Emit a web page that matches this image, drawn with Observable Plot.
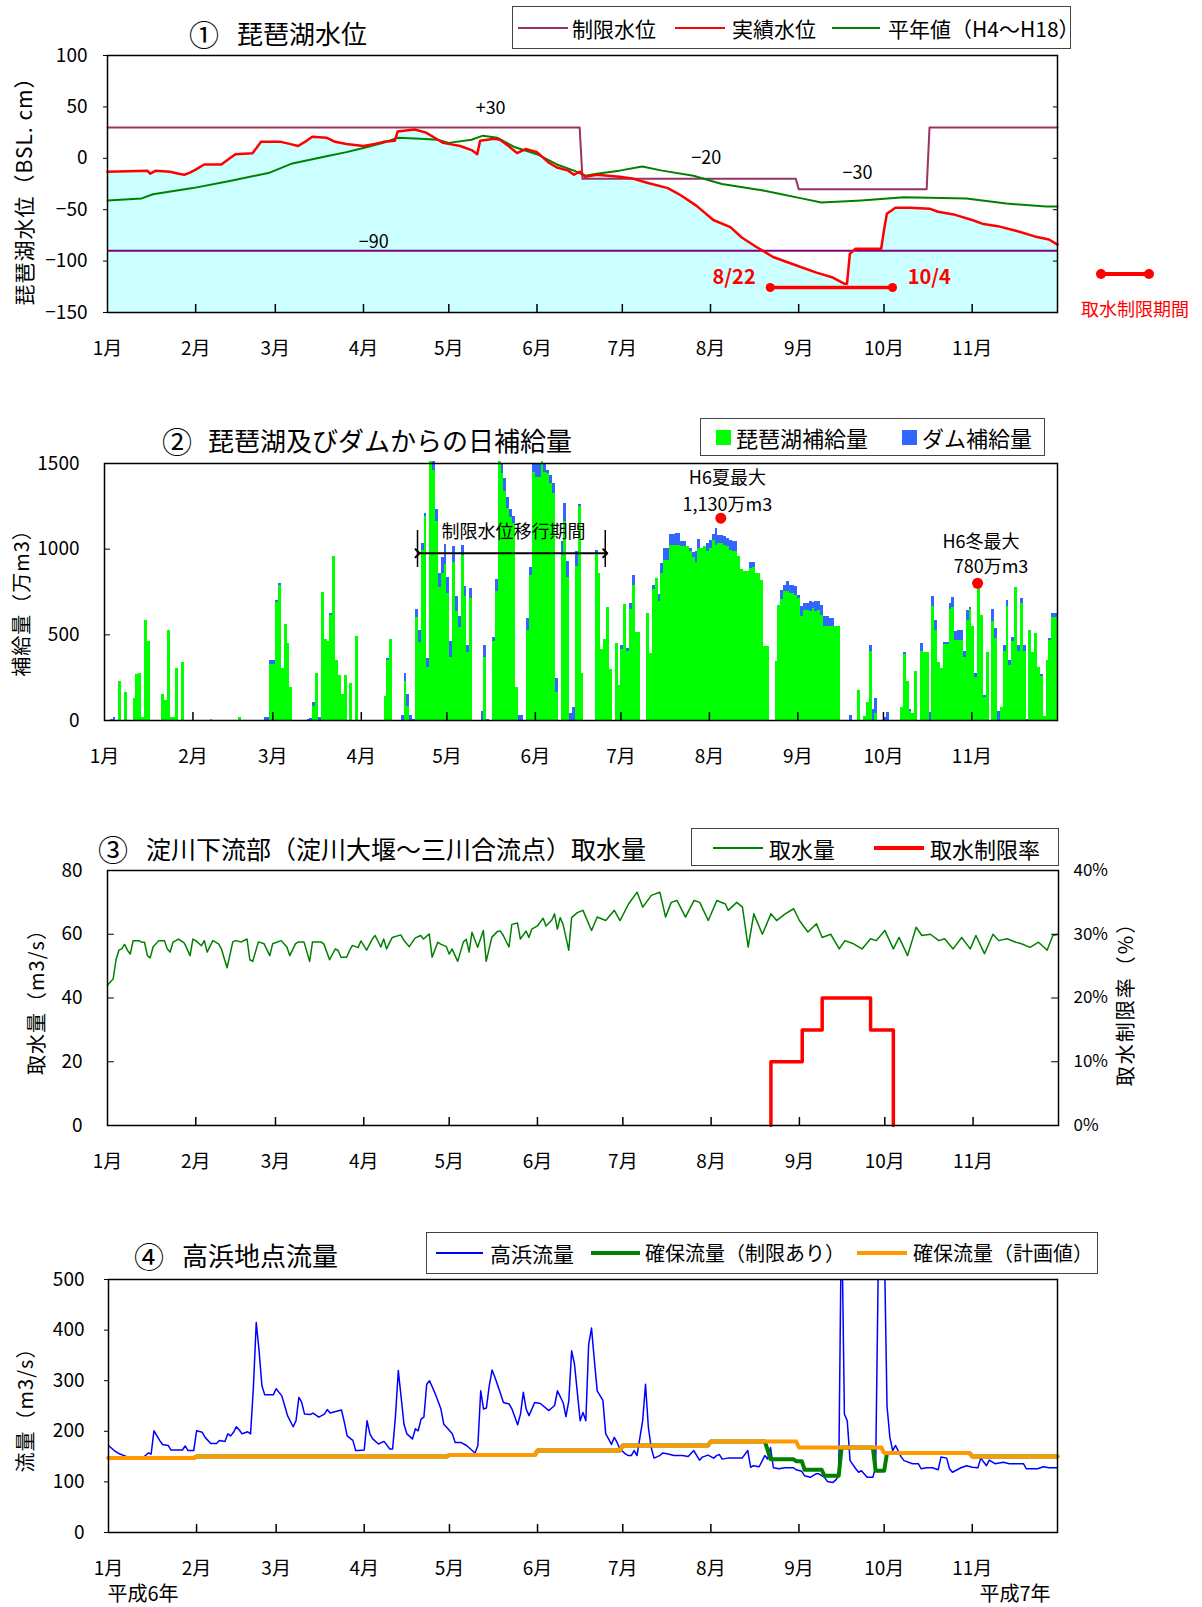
<!DOCTYPE html>
<html><head><meta charset="utf-8">
<script src="https://cdn.jsdelivr.net/npm/d3@7"></script>
<script src="https://cdn.jsdelivr.net/npm/@observablehq/plot@0.6"></script>
<style>
body{margin:0;background:#fff;font-family:"Noto Sans CJK JP","Noto Sans",sans-serif;}
#root{position:relative;width:1202px;height:1607px;overflow:hidden;background:#fff;}
.panel{position:absolute;left:0;}
.abs{position:absolute;white-space:nowrap;color:#000;line-height:1;}
.box{position:absolute;border:1.5px solid #444;background:#fff;box-sizing:border-box;}
.sw{position:absolute;}
</style></head><body><div id="root"></div>
<script>
// ---------------- DATA ----------------
const monthLabels = ["1月","2月","3月","4月","5月","6月","7月","8月","9月","10月","11月"];
const monthStarts = [0,31,59,90,120,151,181,212,243,273,304]; // day index (0 = 1/1)

// ① 琵琶湖水位 (cm): [day, value]
const actualLevel = [[0,-13],[14,-12],[15,-15],[17,-12],[22,-13],[25,-15],[27,-16],[29,-14],[31,-11],[34,-6],[40,-6],[43,0],[45,4],[51,5],[54,16],[61,16],[64,14],[67,12],[70,17],[72,21],[77,20],[80,16],[84,14],[90,12],[94,14],[97,16],[101,17],[102,26],[108,28],[112,25],[115,20],[118,15],[124,12],[128,8],[130,4],[131,17],[136,19],[138,18],[141,12],[144,5],[147,9],[151,6],[155,-4],[158,-9],[162,-12],[164,-16],[166,-13],[168,-18],[172,-16],[180,-18],[185,-20],[190,-24],[197,-29],[201,-35],[207,-46],[213,-60],[219,-67],[223,-77],[228,-86],[234,-96],[242,-104],[249,-111],[255,-116],[259,-122],[260,-122],[261,-93],[263,-88],[272,-88],[273,-70],[274,-54],[277,-48],[282,-48],[289,-49],[292,-52],[298,-55],[304,-60],[308,-64],[313,-66],[320,-71],[326,-76],[331,-79],[334,-84]];
const normalLevel = [[0,-41],[6,-40],[12,-39],[16,-35],[30,-29],[43,-22],[57,-14],[65,-5],[77,2],[84,6],[90,10],[97,15],[102,20],[110,19],[116,18],[120,15],[128,18],[132,22],[137,20],[143,11],[151,4],[158,-6],[164,-12],[168,-17],[172,-15],[180,-12],[188,-8],[195,-12],[206,-17],[216,-25],[230,-31],[237,-35],[244,-39],[251,-43],[265,-41],[280,-38],[302,-39],[316,-44],[330,-47],[334,-47]];
const limitLevel = [[0,30],[166,30],[167,-20],[242,-20],[243,-30],[288,-30],[289,30],[334,30]];
const lowerLimit = -90;
const limitLabels = ["+30","−20","−30","−90"];
const restrictPeriod = [233, 276]; // 8/22 – 10/4
const restrictLabels = ["8/22","10/4"];

// ② 日補給量 (万m3): [day, 琵琶湖, ダム]
const supply = [[2,0,5],[3,0,20],[5,230,0],[7,165,0],[10,130,0],[11,267,0],[12,276,0],[13,20,0],[14,586,0],[15,463,0],[20,154,0],[21,119,0],[22,527,0],[23,20,0],[24,20,0],[25,305,0],[27,340,0],[37,8,0],[47,20,0],[56,0,20],[57,0,20],[58,329,23],[59,329,23],[60,690,12],[61,790,12],[62,305,0],[63,562,0],[64,451,0],[65,195,0],[71,0,8],[72,0,10],[73,84,23],[74,276,0],[75,0,20],[76,749,0],[77,475,0],[78,463,0],[79,615,12],[80,959,0],[81,352,0],[82,265,0],[83,154,0],[84,265,0],[86,218,0],[88,492,0],[98,142,0],[99,352,12],[100,475,0],[104,0,31],[105,230,47],[106,84,70],[107,0,31],[108,0,8],[109,603,47],[110,457,70],[111,990,45],[112,1190,20],[113,307,54],[114,1510,0],[115,1460,50],[116,1163,70],[117,778,82],[118,860,90],[119,912,117],[120,743,93],[121,370,93],[122,924,93],[123,634,91],[124,543,66],[125,965,58],[126,726,58],[127,399,41],[128,714,58],[132,0,54],[133,370,70],[134,0,8],[136,463,23],[137,755,70],[138,1510,0],[139,1440,60],[140,1338,76],[141,1239,64],[142,1187,47],[143,1150,40],[144,195,0],[145,0,31],[146,0,31],[148,527,68],[149,848,47],[150,1450,50],[151,1420,80],[152,1420,80],[153,1510,0],[154,1450,50],[155,1440,20],[156,1385,47],[157,1325,60],[158,163,82],[160,965,78],[161,1163,105],[162,837,93],[163,0,43],[164,0,78],[165,900,88],[166,1250,10],[167,274,0],[172,975,20],[173,858,0],[174,416,0],[175,475,0],[176,661,0],[177,300,0],[179,451,0],[180,206,0],[181,416,19],[182,675,0],[183,400,20],[184,650,35],[185,790,58],[186,514,0],[187,514,0],[190,626,0],[191,393,0],[192,766,23],[193,829,0],[194,693,45],[195,858,58],[196,936,68],[197,936,68],[198,1023,62],[199,1023,62],[200,1023,70],[201,1023,70],[202,1014,29],[203,1014,29],[204,1014,0],[205,985,19],[206,950,30],[207,924,60],[208,1004,54],[209,1004,0],[210,1014,0],[211,985,48],[212,1004,48],[213,1052,33],[214,1023,97],[215,1033,49],[216,1033,49],[217,1023,49],[218,1014,49],[219,994,58],[220,988,54],[221,988,54],[222,959,0],[223,883,0],[224,868,0],[225,868,0],[226,887,35],[227,893,29],[228,858,0],[229,858,0],[230,819,0],[231,430,0],[232,430,0],[235,342,0],[236,673,0],[237,706,51],[238,751,35],[239,751,58],[240,741,45],[241,741,45],[242,731,49],[243,712,20],[244,605,58],[245,644,39],[246,644,39],[247,634,62],[248,653,37],[249,634,62],[250,640,56],[251,615,58],[252,551,54],[253,551,54],[254,551,45],[255,551,45],[256,551,0],[257,551,0],[261,0,31],[264,177,0],[266,21,0],[267,107,0],[268,405,35],[269,0,66],[270,40,90],[273,0,20],[274,0,45],[279,78,0],[280,385,10],[281,230,0],[282,55,12],[283,40,0],[284,288,0],[286,405,47],[287,395,0],[288,395,0],[289,0,45],[290,667,58],[291,527,58],[292,340,0],[293,305,0],[294,445,10],[295,445,10],[296,650,35],[297,660,55],[298,469,49],[299,469,58],[300,469,58],[301,370,35],[302,586,54],[303,650,12],[304,547,0],[305,253,23],[306,780,0],[307,611,0],[308,132,12],[309,397,0],[311,580,70],[312,479,58],[313,0,54],[314,76,0],[315,405,35],[316,663,35],[317,319,33],[318,463,23],[319,776,0],[320,405,35],[321,681,31],[322,405,35],[323,0,8],[324,527,0],[325,397,0],[326,508,0],[327,307,0],[328,255,14],[329,21,0],[330,352,0],[331,469,10],[332,601,23],[333,601,23]];
const summerMax = {day: 216, value: 1181, label: ["H6夏最大","1,130万m3"]};
const winterMax = {day: 306, value: 801, label: ["H6冬最大","780万m3"]};
const transitionPeriod = {from: 109.7, to: 175.5, label: "制限水位移行期間"};

// ③ 取水量 (m3/s): [day, value]
const intake = [[0,44],[1,45],[2,46],[3,52],[4,55],[5,55.4],[6,56.8],[7,55],[8,53.8],[9,58],[11,58],[12,57.5],[13,57.5],[14,53.3],[15,52.6],[16,56],[18,58],[20,58],[21,55.4],[22,54.4],[23,57.5],[25,58.5],[27,57.2],[29,53.3],[30,58.5],[31,58],[33,56.4],[34,58],[35,54.4],[37,58],[39,57],[40,55.4],[42,49.5],[44,57.6],[45,58],[47,57.6],[49,58.5],[50,52],[51,51.5],[53,57.6],[55,57],[57,53.3],[58,57],[61,58],[63,56],[64,53.3],[66,57],[67,57.6],[69,57.6],[71,51.5],[72,57.6],[75,57.6],[76,56.9],[78,52],[80,55.4],[81,54.9],[82,52.8],[84,52.8],[85,54.9],[86,56.5],[88,55.8],[89,57.9],[91,55],[93,58.5],[94,59.6],[96,56],[97,58.5],[98,55.4],[100,59],[103,59.8],[104,58.2],[106,56.1],[108,58.8],[110,59.6],[111,58.5],[113,60.1],[114,52.8],[116,57.5],[117,56.9],[118,56.5],[119,56.1],[120,53.8],[121,55.4],[123,51.5],[125,57.6],[126,58.4],[127,54.4],[128,60.6],[130,55.9],[132,61.2],[133,51.5],[135,59.1],[137,60.9],[138,61],[139,59.6],[141,56],[142,63.1],[144,63.5],[145,58.5],[147,61],[148,59],[149,61.6],[151,62.6],[153,65],[154,62.6],[156,64.4],[157,66.4],[158,61.6],[159,65.2],[160,63.1],[162,55],[163,65.2],[165,66.8],[167,67.5],[170,61.2],[172,65.4],[175,64.3],[178,67.5],[180,64.3],[183,69.5],[186,73.2],[188,68.5],[191,72.2],[194,73.2],[196,65.4],[198,70],[200,70.6],[203,65.4],[206,70.6],[208,70],[211,64.3],[214,70.6],[217,69.5],[218,67.5],[221,70],[223,68.5],[225,56],[227,66.4],[230,60],[233,66.4],[235,64.3],[238,66.4],[241,68],[243,64.3],[246,60.7],[249,63.3],[251,59],[254,60],[257,55.4],[259,58],[262,57],[265,55.4],[268,58.6],[270,58],[273,61.2],[276,55.4],[278,59],[281,53.3],[284,62.2],[286,59.6],[289,60],[292,58],[294,58.6],[297,55.4],[300,59],[303,55.4],[305,59.6],[308,53.9],[311,60],[313,58],[316,58.6],[319,57.5],[321,57],[324,55.9],[327,57.5],[330,55],[332,59.6],[334,60]];
// 取水制限率 (%): step changes [day, rate]
const restrictRate = [[233,0],[233,10],[244,15],[251,20],[268,15],[276,0]];
const rateTicks = [0,10,20,30,40];

// ④ 高浜流量 (m3/s)
const flow = [[0,172],[2,162],[4,155],[6,151],[8,147],[12,147],[14,157],[15,155],[16,201],[18,182],[19,174],[21,172],[22,163],[26,163],[27,171],[28,162],[30,162],[31,201],[33,198],[34,188],[36,176],[38,176],[39,182],[41,180],[42,195],[43,191],[44,198],[45,209],[46,203],[47,195],[49,199],[50,195],[51,287],[52,415],[53,359],[54,290],[55,272],[58,272],[59,284],[61,270],[62,251],[63,231],[65,209],[66,221],[67,267],[68,257],[69,234],[71,233],[72,236],[74,228],[76,234],[77,243],[78,236],[80,239],[82,242],[83,218],[84,191],[86,182],[87,162],[88,162],[90,163],[91,221],[92,195],[93,185],[95,175],[97,180],[99,165],[100,165],[101,230],[102,320],[104,214],[105,195],[107,185],[108,205],[109,201],[110,224],[111,228],[112,293],[113,300],[114,287],[115,274],[117,244],[118,214],[119,208],[121,195],[122,178],[124,178],[126,172],[128,162],[129,157],[130,172],[131,280],[132,244],[133,246],[134,290],[135,321],[136,307],[138,274],[139,257],[141,254],[142,244],[144,213],[145,234],[146,277],[147,244],[148,231],[150,257],[152,255],[155,241],[157,251],[158,280],[160,257],[161,229],[162,260],[163,359],[164,333],[166,221],[167,237],[168,221],[169,372],[170,404],[171,340],[172,280],[174,261],[175,195],[176,185],[177,174],[178,188],[179,178],[180,165],[182,155],[183,152],[184,152],[185,162],[186,152],[188,221],[189,293],[190,208],[191,168],[192,147],[194,152],[195,157],[197,155],[199,152],[202,152],[204,150],[206,162],[208,143],[209,149],[211,153],[213,147],[214,152],[215,154],[216,145],[218,147],[223,147],[225,162],[226,129],[227,132],[229,130],[231,152],[232,145],[233,168],[234,128],[236,126],[238,128],[241,128],[242,124],[244,121],[245,112],[247,109],[249,116],[250,116],[252,109],[253,101],[255,99],[256,104],[257,112],[258,650],[259,234],[260,221],[261,142],[263,126],[264,119],[265,122],[267,109],[269,109],[270,129],[271,560],[272,760],[273,590],[274,250],[275,188],[276,162],[277,172],[279,149],[280,142],[283,136],[285,136],[286,126],[288,128],[290,128],[292,124],[293,149],[295,147],[296,126],[297,119],[300,128],[302,132],[304,129],[306,128],[307,147],[309,132],[310,143],[312,136],[315,139],[317,136],[322,136],[323,126],[327,126],[329,130],[331,128],[334,128]];
const plannedFlow = [[0,147],[30,147],[31,150],[119,150],[120,153],[150,153],[151,162],[180,162],[181,172],[211,172],[212,180],[242,180],[243,168],[272,168],[273,157],[303,157],[304,150],[334,150]];
const securedFlow = [[0,147],[30,147],[31,150],[119,150],[120,153],[150,153],[151,162],[180,162],[181,172],[211,172],[212,180],[231,180],[233,145],[241,145],[242,141],[244,141],[245,124],[251,124],[252,112],[257,112],[258,168],[269,168],[270,122],[273,122],[274,157],[303,157],[304,150],[334,150]];
const yearLabels = ["平成6年","平成7年"];

// ---------------- HELPERS ----------------
const FONT = '"Noto Sans CJK JP","Noto Sans",sans-serif';
const root = document.getElementById("root");
const D = d => new Date(Date.UTC(1994, 0, 1) + d * 864e5);
const rows = p => p.map(([d, v]) => ({date: D(d), v}));
const months = monthStarts.map(D);
const fmtMonth = d => monthLabels[months.findIndex(m => +m === +d)];
const xDomain = [D(0), D(334)];
const style = {fontFamily: FONT, fontSize: "19px", background: "transparent", overflow: "visible", color: "#000"};

function place(svg, top) { const w = document.createElement("div"); w.className = "panel"; w.style.top = top + "px"; w.appendChild(svg); root.appendChild(w); }
function label(txt, x, y, o = {}) {
  const e = document.createElement("div"); e.className = "abs"; e.textContent = txt;
  e.style.left = x + "px"; e.style.top = y + "px"; e.style.fontSize = (o.size || 20) + "px";
  if (o.color) e.style.color = o.color;
  if (o.weight) e.style.fontWeight = o.weight;
  if (o.ls) e.style.letterSpacing = o.ls + "px";
  const ax = o.anchor === "middle" ? "-50%" : o.anchor === "end" ? "-100%" : "0";
  e.style.transform = o.rotate ? `translate(-50%,-50%) rotate(${o.rotate}deg)` : `translate(${ax},-50%)`;
  root.appendChild(e); return e;
}
function box(x, y, w, h) { const e = document.createElement("div"); e.className = "box"; Object.assign(e.style, {left: x + "px", top: y + "px", width: w + "px", height: h + "px"}); root.appendChild(e); }
function hline(x1, x2, y, color, w) { const e = document.createElement("div"); e.className = "sw"; Object.assign(e.style, {left: x1 + "px", top: (y - w / 2) + "px", width: (x2 - x1) + "px", height: w + "px", background: color}); root.appendChild(e); }
function square(x, y, s, color) { const e = document.createElement("div"); e.className = "sw"; Object.assign(e.style, {left: x + "px", top: y + "px", width: s + "px", height: s + "px", background: color}); root.appendChild(e); }
function dotDiv(x, y, r, color) { const e = document.createElement("div"); e.className = "sw"; Object.assign(e.style, {left: (x - r) + "px", top: (y - r) + "px", width: 2 * r + "px", height: 2 * r + "px", background: color, borderRadius: "50%"}); root.appendChild(e); }

// ---------------- ① 琵琶湖水位 ----------------
const act = rows(actualLevel), nor = rows(normalLevel), lim = rows(limitLevel);
const restrictRow = restrictPeriod.map(d => ({date: D(d), v: -125.7}));
place(Plot.plot({
  width: 1202, height: 370, marginLeft: 107, marginRight: 145, marginTop: 55, marginBottom: 58, style,
  x: {type: "utc", domain: xDomain}, y: {domain: [-150, 100]},
  marks: [
    Plot.areaY(act, {x: "date", y1: -150, y2: "v", fill: "#ccffff"}),
    Plot.ruleY([lowerLimit], {stroke: "#800080", strokeWidth: 2}),
    Plot.line(lim, {x: "date", y: "v", stroke: "#993366", strokeWidth: 2}),
    Plot.line(nor, {x: "date", y: "v", stroke: "#008000", strokeWidth: 2}),
    Plot.line(act, {x: "date", y: "v", stroke: "#ff0000", strokeWidth: 2.5}),
    Plot.ruleX(months.slice(1), {y1: -150, y2: -142.2, stroke: "#000", strokeWidth: 1.5}),
    Plot.ruleY([-100, -50, 0, 50], {x1: D(332.6), x2: D(334), stroke: "#000"}),
    Plot.frame({stroke: "#000", strokeWidth: 1.5}),
    Plot.axisX({ticks: months, tickSize: 0, tickPadding: 29, tickFormat: fmtMonth, fontSize: 19}),
    Plot.axisY({ticks: [-150, -100, -50, 0, 50, 100], tickSize: 4, tickPadding: 16, fontSize: 19, label: null}),
    Plot.text([limitLabels[0]], {x: D(134.7), y: 48.4, fontSize: 18}),
    Plot.text([limitLabels[1]], {x: D(210.5), y: 0, fontSize: 18}),
    Plot.text([limitLabels[2]], {x: D(263.7), y: -14.8, fontSize: 18}),
    Plot.text([limitLabels[3]], {x: D(93.6), y: -82, fontSize: 18}),
    Plot.line(restrictRow, {x: "date", y: "v", stroke: "#ff0000", strokeWidth: 3.5}),
    Plot.dot(restrictRow, {x: "date", y: "v", r: 4.5, fill: "#ff0000"}),
    Plot.text([restrictLabels[0]], {x: D(220.3), y: -115.7, fontSize: 20, fontWeight: "bold", fill: "#ff0000"}),
    Plot.text([restrictLabels[1]], {x: D(288.9), y: -115.7, fontSize: 20, fontWeight: "bold", fill: "#ff0000"})
  ]
}), 0);

// ---------------- ② 日補給量 ----------------
const lakeBars = supply.filter(s => s[1] > 0).map(([d, a]) => ({x1: D(d), x2: D(d + 1), y1: 0, y2: a}));
const damBars = supply.filter(s => s[2] > 0).map(([d, a, b]) => ({x1: D(d), x2: D(d + 1), y1: a, y2: a + b}));
place(Plot.plot({
  width: 1202, height: 380, marginLeft: 104, marginRight: 145, marginTop: 63, marginBottom: 60, style,
  x: {type: "utc", domain: xDomain}, y: {domain: [0, 1500]},
  marks: [
    Plot.rect(lakeBars, {x1: "x1", x2: "x2", y1: "y1", y2: "y2", fill: "#00ff00", shapeRendering: "crispEdges"}),
    Plot.rect(damBars, {x1: "x1", x2: "x2", y1: "y1", y2: "y2", fill: "#3366ff", shapeRendering: "crispEdges"}),
    Plot.ruleX(months.slice(1), {y1: 0, y2: 47, stroke: "#000", strokeWidth: 1.5}),
    Plot.ruleY([500, 1000], {x1: D(0), x2: D(2.1), stroke: "#000"}),
    Plot.frame({stroke: "#000", strokeWidth: 1.5}),
    Plot.axisX({ticks: months, tickSize: 0, tickPadding: 29, tickFormat: fmtMonth, fontSize: 19}),
    Plot.axisY({ticks: [0, 500, 1000, 1500], tickSize: 0, tickPadding: 25, fontSize: 19, label: null, tickFormat: d => String(d)}),
    Plot.link([0], {x1: D(transitionPeriod.from), x2: D(transitionPeriod.to), y1: 976, y2: 976, stroke: "#000", strokeWidth: 2, markerStart: "arrow", markerEnd: "arrow"}),
    Plot.ruleX([D(transitionPeriod.from), D(transitionPeriod.to)], {y1: 893, y2: 1109, stroke: "#000", strokeWidth: 1.5}),
    Plot.text([transitionPeriod.label], {x: D(143.3), y: 1099, fontSize: 18}),
    Plot.text([summerMax.label[0]], {x: D(218.3), y: 1414, fontSize: 18}),
    Plot.text([summerMax.label[1]], {x: D(218.3), y: 1257, fontSize: 18}),
    Plot.dot([summerMax], {x: d => D(d.day), y: "value", r: 5.5, fill: "#ff0000"}),
    Plot.text([winterMax.label[0]], {x: D(307.2), y: 1040, fontSize: 18}),
    Plot.text([winterMax.label[1]], {x: D(310.7), y: 894, fontSize: 18}),
    Plot.dot([winterMax], {x: d => D(d.day), y: "value", r: 5.5, fill: "#ff0000"})
  ]
}), 400);

// ---------------- ③ 取水量 ----------------
const intakeRows = rows(intake);
const rateRows = restrictRate.map(([d, r]) => ({date: D(d), r}));
place(Plot.plot({
  width: 1202, height: 360, marginLeft: 107, marginRight: 144, marginTop: 50, marginBottom: 55, style,
  x: {type: "utc", domain: xDomain}, y: {domain: [0, 80]},
  marks: [
    Plot.line(intakeRows, {x: "date", y: "v", stroke: "#008000", strokeWidth: 1.5}),
    Plot.line(rateRows, {x: "date", y: d => d.r * 2, curve: "step-after", stroke: "#ff0000", strokeWidth: 3.5}),
    Plot.ruleX(months.slice(1), {y1: 0, y2: 2.5, stroke: "#000", strokeWidth: 1.5}),
    Plot.ruleY([20, 40, 60], {x1: D(0), x2: D(2.4), stroke: "#000"}),
    Plot.ruleY([20, 40, 60], {x1: D(331.6), x2: D(334), stroke: "#000"}),
    Plot.frame({stroke: "#000", strokeWidth: 1.5}),
    Plot.axisX({ticks: months, tickSize: 0, tickPadding: 29, tickFormat: fmtMonth, fontSize: 19}),
    Plot.axisY({ticks: [0, 20, 40, 60, 80], tickSize: 0, tickPadding: 25, fontSize: 19, label: null}),
    Plot.axisY({anchor: "right", ticks: rateTicks.map(r => r * 2), tickSize: 0, tickPadding: 15, fontSize: 17, label: null, tickFormat: d => (d / 2) + "%"})
  ]
}), 820);

// ---------------- ④ 高浜地点流量 ----------------
place(Plot.plot({
  width: 1202, height: 387, marginLeft: 108, marginRight: 145, marginTop: 59, marginBottom: 75, style,
  x: {type: "utc", domain: xDomain}, y: {domain: [0, 500]},
  marks: [
    Plot.line(rows(flow), {x: "date", y: "v", stroke: "#0000ff", strokeWidth: 1.5, clip: true}),
    Plot.line(rows(securedFlow), {x: "date", y: "v", stroke: "#008000", strokeWidth: 4}),
    Plot.line(rows(plannedFlow), {x: "date", y: "v", stroke: "#ff9900", strokeWidth: 4}),
    Plot.ruleX(months.slice(1), {y1: 0, y2: 16, stroke: "#000", strokeWidth: 1.5}),
    Plot.frame({stroke: "#000", strokeWidth: 1.5}),
    Plot.axisX({ticks: months, tickSize: 0, tickPadding: 29, tickFormat: fmtMonth, fontSize: 19}),
    Plot.axisY({ticks: [0, 100, 200, 300, 400, 500], tickSize: 4, tickPadding: 20, fontSize: 19, label: null})
  ]
}), 1220);

// ---------------- Titles, axis titles, legends ----------------
label("①", 189, 33, {size: 30}); label("琵琶湖水位", 237, 33, {size: 26});
label("②", 162, 440, {size: 30}); label("琵琶湖及びダムからの日補給量", 208, 440, {size: 26});
label("③", 98, 848, {size: 30}); label("淀川下流部（淀川大堰〜三川合流点）取水量", 146, 848, {size: 25});
label("④", 134, 1255, {size: 30}); label("高浜地点流量", 182, 1255, {size: 26});

label("琵琶湖水位（BSL. cm）", 23, 186, {size: 21, rotate: -90, ls: 1});
label("補給量（万m3）", 21, 598, {size: 20, rotate: -90, ls: 1});
label("取水量（m3/s）", 36, 997, {size: 20, rotate: -90, ls: 1});
label("取水制限率（%）", 1125, 999, {size: 20, rotate: -90, ls: 2});
label("流量（m3/s）", 25, 1405, {size: 20, rotate: -90, ls: 1});
label(yearLabels[0], 143, 1593, {size: 20, anchor: "middle"});
label(yearLabels[1], 1015, 1593, {size: 20, anchor: "middle"});

// legend ①
box(512, 6, 559, 43);
hline(518, 568, 28, "#993366", 2); label("制限水位", 572, 28, {size: 21});
hline(675, 725, 28, "#ff0000", 2); label("実績水位", 732, 28, {size: 21});
hline(832, 880, 28, "#008000", 2); label("平年値（H4〜H18）", 888, 28, {size: 21});
// 取水制限期間 key
hline(1101, 1149, 274, "#ff0000", 3.5); dotDiv(1101, 274, 5, "#ff0000"); dotDiv(1149, 274, 5, "#ff0000");
label("取水制限期間", 1135, 308, {size: 18, color: "#ff0000", anchor: "middle"});

// legend ②
box(700, 418, 345, 38);
square(716, 430, 15, "#00ff00"); label("琵琶湖補給量", 736, 437, {size: 22});
square(902, 430, 15, "#3366ff"); label("ダム補給量", 922, 437, {size: 22});

// legend ③
box(691, 828, 368, 38);
hline(713, 763, 848, "#008000", 1.5); label("取水量", 769, 848, {size: 22});
hline(874, 924, 848, "#ff0000", 4); label("取水制限率", 930, 848, {size: 22});

// legend ④
box(426, 1232, 672, 42);
hline(436, 483, 1253, "#0000ff", 1.5); label("高浜流量", 490, 1253, {size: 21});
hline(591, 640, 1253, "#008000", 4); label("確保流量（制限あり）", 645, 1253, {size: 20});
hline(857, 907, 1253, "#ff9900", 4); label("確保流量（計画値）", 913, 1253, {size: 20});
</script></body></html>
